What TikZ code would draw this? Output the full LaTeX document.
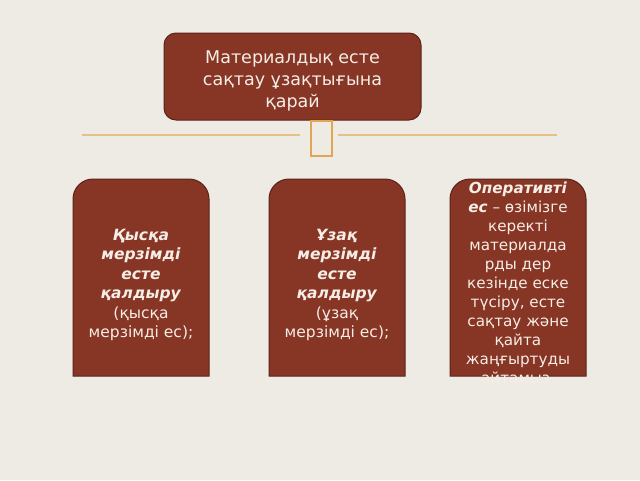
\documentclass[tikz,border=0pt]{standalone}
\usepackage{fontspec}
\setmainfont{DejaVu Sans}
\definecolor{bg}{HTML}{EDEBE4}
\definecolor{boxfill}{HTML}{873524}
\definecolor{boxedge}{HTML}{5A2418}
\definecolor{tan}{HTML}{E6C089}
\definecolor{tanbox}{HTML}{E0A656}
\definecolor{txt}{HTML}{F6EEE6}
\begin{document}
\begin{tikzpicture}[x=1pt,y=-1pt,
  boxshape/.style={fill=boxfill,draw=boxedge,line width=1pt},
  toptext/.style={text=txt,align=center,font=\fontsize{17.5}{21.7}\selectfont,inner sep=0pt},
  lowtext/.style={text=txt,align=center,font=\fontsize{15.5}{19.5}\selectfont,inner sep=0pt},
  optext/.style={text=txt,align=center,font=\fontsize{15.2}{19}\selectfont,inner sep=0pt},
  tanline/.style={draw=tan,line width=1.2pt}]
\useasboundingbox (0,0) rectangle (640,480);
\fill[bg] (0,0) rectangle (640,480);
% top box
\draw[boxshape,rounded corners=12pt] (164,33) rectangle (421,120);
\node[toptext] (top) at (292.5,81) {Материалдық есте\\сақтау ұзақтығына\\қарай};
% decorative lines
\coordinate (l1) at (82,135); \coordinate (l2) at (300,135);
\coordinate (r1) at (338,135); \coordinate (r2) at (557,135);
\draw[tanline] (l1) -- (l2);
\draw[tanline] (r1) -- (r2);
\draw[draw=tanbox,line width=2pt] (311,121) rectangle (332,156);
% lower boxes
\draw[boxshape] (73,376) [rounded corners=20pt] -- (73,179) -- (209,179) [sharp corners] -- (209,376) -- cycle;
\draw[boxshape] (269,376) [rounded corners=20pt] -- (269,179) -- (405,179) [sharp corners] -- (405,376) -- cycle;
\draw[boxshape] (450,376) [rounded corners=20pt] -- (450,179) -- (586,179) [sharp corners] -- (586,376) -- cycle;
\node[lowtext] (b1) at (141,285) {\textbf{\textit{Қысқа}}\\\textbf{\textit{мерзімді}}\\\textbf{\textit{есте}}\\\textbf{\textit{қалдыру}}\\(қысқа\\мерзімді ес);};
\node[lowtext] (b2) at (337,285) {\textbf{\textit{Ұзақ}}\\\textbf{\textit{мерзімді}}\\\textbf{\textit{есте}}\\\textbf{\textit{қалдыру}}\\(ұзақ\\мерзімді ес);};
\node[optext] (b3) at (518,283) {\textbf{\textit{Оперативті}}\\\textbf{\textit{ес}} – өзімізге\\керекті\\материалда\\рды дер\\кезінде еске\\түсіру, есте\\сақтау және\\қайта\\жаңғыртуды\\айтамыз.};
\end{tikzpicture}
\end{document}
